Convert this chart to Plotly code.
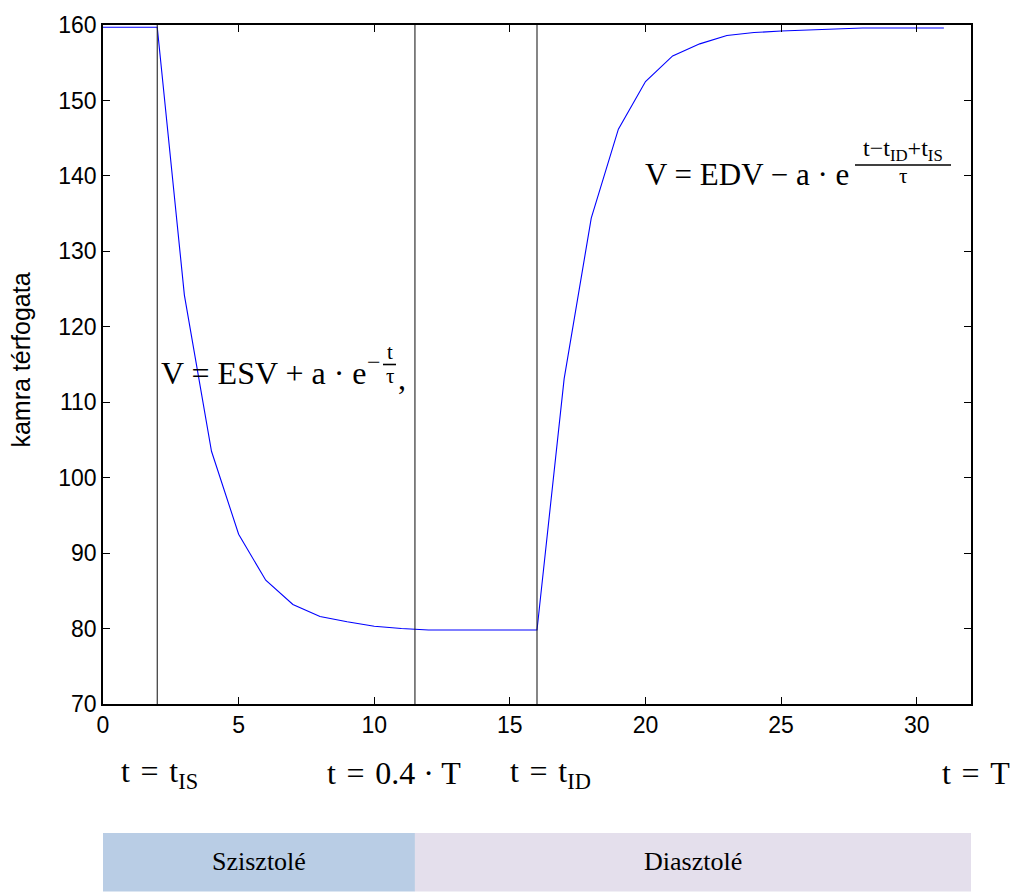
import plotly.graph_objects as go

# ---- data ----
t = list(range(32))
V = [159.7, 159.7, 159.7, 124.2, 103.5, 92.5, 86.4, 83.2, 81.6, 80.9,
     80.3, 80.0, 79.8, 79.8, 79.8, 79.8, 79.8, 113.1, 134.4, 146.2,
     152.5, 155.9, 157.5, 158.6, 159.0, 159.2, 159.3, 159.5, 159.6, 159.6,
     159.6, 159.6]
event_t = [2, 11.5, 16]                 # t_IS, 0.4*T, t_ID
phase_edges = [0, 11.5, 32]
phase_names = ["Szisztolé", "Diasztolé"]
phase_colors = ["#B9CDE5", "#E4DFEC"]
x_ticks = [0, 5, 10, 15, 20, 25, 30]
y_ticks = [70, 80, 90, 100, 110, 120, 130, 140, 150, 160]
y_title = "kamra térfogata"

W, H = 1013, 893
L, R, T, B = 103, 42, 20, 189
PW, PH = W - L - R, H - T - B


def px(xp):
    return (xp - L) / PW


def py(yp):
    return (T + PH - yp) / PH


fig = go.Figure()
fig.add_trace(go.Scatter(x=t, y=V, mode="lines",
                         line=dict(color="#0000FF", width=1.1),
                         showlegend=False, hoverinfo="skip"))

for e in event_t:
    fig.add_shape(type="line", xref="x", yref="y", x0=e, x1=e, y0=70, y1=160,
                  line=dict(color="#222222", width=1.1))

# phase bars below the chart
for i, name in enumerate(phase_names):
    fig.add_shape(type="rect", xref="x", yref="paper",
                  x0=phase_edges[i], x1=phase_edges[i + 1],
                  y0=py(893), y1=py(834), fillcolor=phase_colors[i],
                  line=dict(width=0), layer="below")
    fig.add_annotation(xref="x", yref="paper",
                       x=(phase_edges[i] + phase_edges[i + 1]) / 2, y=py(863),
                       text=name, showarrow=False, xanchor="center", yanchor="middle",
                       font=dict(family="Liberation Serif", size=26, color="black"))

SERIF = "Liberation Serif"
sp = "\u2004"


def ann(text, x, y, size, xanchor="left", yanchor="middle", family=SERIF, angle=0):
    fig.add_annotation(xref="paper", yref="paper", x=px(x), y=py(y), text=text,
                       showarrow=False, xanchor=xanchor, yanchor=yanchor,
                       textangle=angle,
                       font=dict(family=family, size=size, color="black"))


# formula 1
ann("V = ESV + a · e", 159, 371, 32)
ann("−", 374, 359, 24, xanchor="center")
ann("t", 390, 349, 21, xanchor="center")
ann("τ", 390, 374, 21, xanchor="center")
fig.add_shape(type="line", xref="paper", yref="paper", x0=px(383), x1=px(396),
              y0=py(362), y1=py(362), line=dict(color="black", width=1.6))
ann(",", 396, 376, 32)

# formula 2
ann("V = EDV − a · e", 643, 171, 31)
ann("t−t<sub>ID</sub>+t<sub>IS</sub>", 903, 146, 24, xanchor="center")
ann("τ", 903, 172, 21, xanchor="center")
fig.add_shape(type="line", xref="paper", yref="paper", x0=px(855), x1=px(951),
              y0=py(161), y1=py(161), line=dict(color="black", width=1.6))

# event labels under the axis
ann(f"t{sp}={sp}t<sub>IS</sub>", 119, 774, 32)
ann(f"t{sp}={sp}0.4 · T", 325, 774, 32)
ann(f"t{sp}={sp}t<sub>ID</sub>", 508, 774, 32)
ann(f"t{sp}={sp}T", 940, 774, 32)

# y axis title
ann(y_title, 21, 358, 25, xanchor="center", family="Liberation Sans", angle=-90)

axis_common = dict(showline=True, linecolor="black", linewidth=1.6, mirror="ticks",
                   ticks="inside", ticklen=7, tickwidth=1.3, tickcolor="black",
                   showgrid=False, zeroline=False,
                   tickfont=dict(family="Liberation Sans", size=23, color="black"))
fig.update_xaxes(range=[0, 32], tickvals=x_ticks, **axis_common)
fig.update_yaxes(range=[70, 160], tickvals=y_ticks, **axis_common)

fig.update_layout(width=W, height=H, margin=dict(l=L, r=R, t=T, b=B),
                  paper_bgcolor="white", plot_bgcolor="white", showlegend=False)

fig.write_html("out.html")
